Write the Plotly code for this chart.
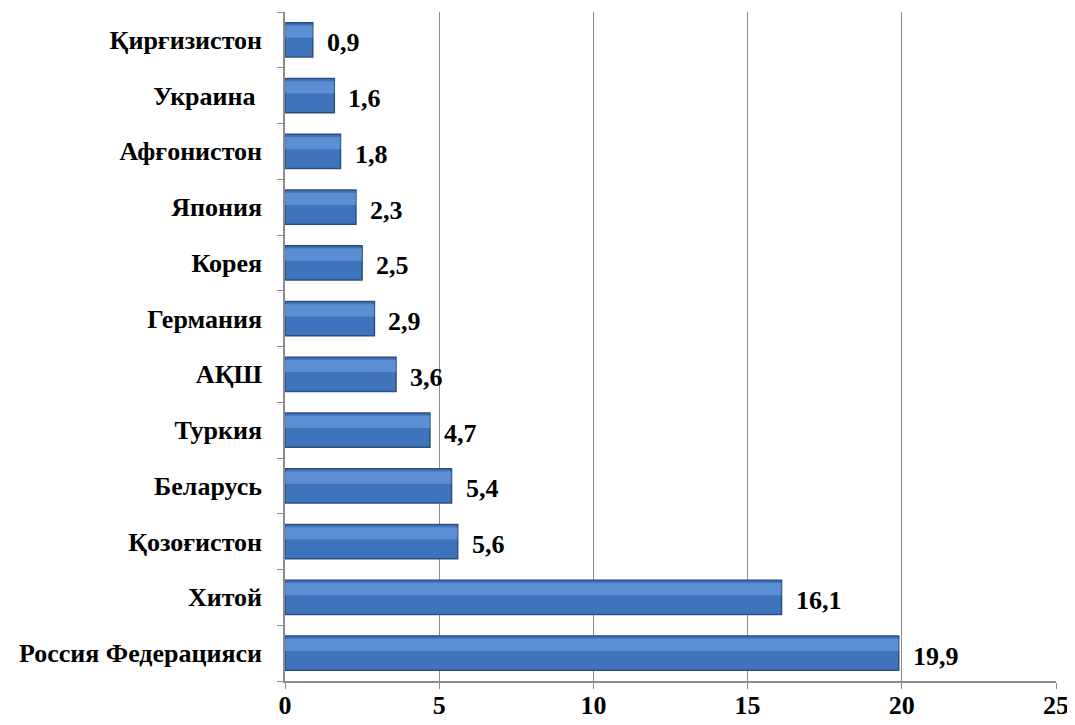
import plotly.graph_objects as go

countries = ["Россия Федерацияси", "Хитой", "Қозоғистон", "Беларусь", "Туркия", "АҚШ",
             "Германия", "Корея", "Япония", "Афғонистон", "Украина ", "Қирғизистон"]
values = [19.9, 16.1, 5.6, 5.4, 4.7, 3.6, 2.9, 2.5, 2.3, 1.8, 1.6, 0.9]
x_ticks = [0, 5, 10, 15, 20, 25]

labels = [f"{v:.1f}".replace(".", ",") for v in values]
font_bold = dict(family="Liberation Serif", size=26, color="black", weight="bold")

fig = go.Figure()
fig.add_trace(go.Bar(
    x=values, y=countries, orientation="h",
    marker=dict(color="#3F74BC", line=dict(color="#2C4F7E", width=1.5)),
    width=0.61,
    hoverinfo="skip",
))
# lighter highlight along the upper half of each bar
fig.add_trace(go.Bar(
    x=values, y=countries, orientation="h",
    marker=dict(color="rgba(110,160,225,0.6)", line=dict(width=0)),
    width=0.22, offset=0.04,
    hoverinfo="skip",
))

for c, v, t in zip(countries, values, labels):
    fig.add_annotation(x=v, y=c, text=t, showarrow=False, xanchor="left",
                       xshift=12, yshift=-3, font=font_bold)

fig.update_layout(
    width=1075, height=725,
    margin=dict(l=277, r=27, t=4, b=52),
    paper_bgcolor="white", plot_bgcolor="white",
    showlegend=False, barmode="overlay",
    xaxis=dict(range=[0, 25], tickvals=x_ticks, ticks="outside", ticklen=6,
               tickcolor="#8C8C8C", showline=True, linecolor="#8C8C8C", linewidth=1.5,
               showgrid=True, gridcolor="#8C8C8C", gridwidth=1.2,
               tickfont=font_bold, zeroline=False, fixedrange=True,
               ticklabelstandoff=-6),
    yaxis=dict(categoryorder="array", categoryarray=countries, ticks="outside",
               tickson="boundaries", ticklen=6, tickcolor="#8C8C8C",
               showline=True, linecolor="#8C8C8C", linewidth=1.5, showgrid=False,
               tickfont=font_bold, ticklabelstandoff=16, fixedrange=True),
)

fig.write_html("out.html")
